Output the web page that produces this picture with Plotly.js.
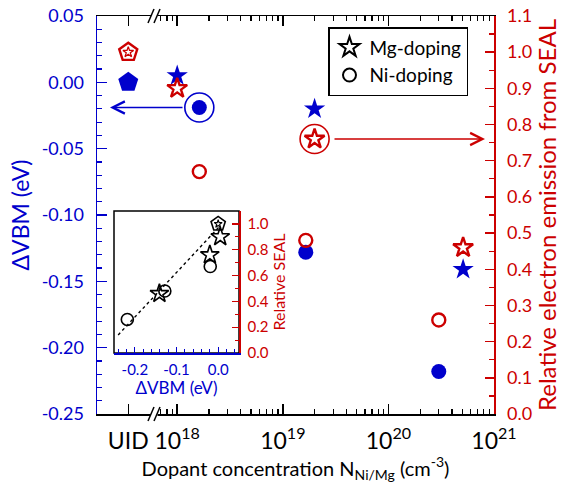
<!DOCTYPE html>
<html><head><meta charset="utf-8">
<script src="https://cdn.plot.ly/plotly-3.0.1.min.js"></script>
<style>html,body{margin:0;padding:0;background:#fff}#chart{width:574px;height:483px}</style>
</head><body><div id="chart"></div>
<script>
// ---- data ----
const samples       = ['UID', 'Mg', 'Ni', 'Ni', 'Mg', 'Ni', 'Mg'];
const concentration = [3.44e17, 1.0e18, 1.62e18, 1.65e19, 2.0e19, 3.0e20, 5.1e20]; // cm^-3 (UID placed at break)
const deltaVBM      = [0.000, 0.005, -0.019, -0.128, -0.020, -0.218, -0.141];   // eV
const relSEAL       = [1.00, 0.90, 0.67, 0.48, 0.76, 0.26, 0.46];
const highlightVBM  = 2;   // point circled in blue
const highlightSEAL = 4;   // point circled in red
const fitVBM  = [-0.24, 0.006];
const fitSEAL = [0.14, 0.99];

const xTickVals = [3.44e17, 1e18, 1e19, 1e20, 1e21];
const xTickText = ['UID', '10<sup>18</sup>', '10<sup>19</sup>', '10<sup>20</sup>', '10<sup>21</sup>'];
const xMinorVals = [7e17, 8e17, 9e17,
  2e18, 3e18, 4e18, 5e18, 6e18, 7e18, 8e18, 9e18,
  2e19, 3e19, 4e19, 5e19, 6e19, 7e19, 8e19, 9e19,
  2e20, 3e20, 4e20, 5e20, 6e20, 7e20, 8e20, 9e20];
const yTickVals = [-0.25, -0.20, -0.15, -0.10, -0.05, 0.00, 0.05];
const yTickText = ['-0.25', '-0.20', '-0.15', '-0.10', '-0.05', '0.00', '0.05'];
const insetXTickVals = [-0.2, -0.1, 0.0];
const insetXTickText = ['-0.2', '-0.1', '0.0'];
const insetYTickVals = [0.0, 0.2, 0.4, 0.6, 0.8, 1.0];
const insetYTickText = ['0.0', '0.2', '0.4', '0.6', '0.8', '1.0'];
const legendNames = ['Mg-doping', 'Ni-doping'];

const BLUE = '#0000cc', RED = '#cc0000';
const FONT = 'Lato, "Open Sans", sans-serif';
const filledSym = {UID: 'pentagon', Mg: 'star', Ni: 'circle'};
const openSym   = {UID: 'pentagon-open', Mg: 'star-open', Ni: 'circle-open'};
const mainSize  = {UID: 21, Mg: 16, Ni: 15};
const redSize   = {UID: 19, Mg: 15, Ni: 13};
const insetSize = {UID: 15, Mg: 14, Ni: 12};

const traces = [
  // blue: delta VBM (left axis)
  {x: concentration, y: deltaVBM, xaxis: 'x', yaxis: 'y', mode: 'markers', showlegend: false,
   marker: {color: BLUE, opacity: 1, symbol: samples.map(s => filledSym[s]), size: samples.map(s => mainSize[s]), line: {width: 0}}},
  // red: relative SEAL (right axis)
  {x: concentration, y: relSEAL, xaxis: 'x', yaxis: 'y2', mode: 'markers', showlegend: false,
   marker: {color: RED, opacity: 1, symbol: samples.map(s => openSym[s]), size: samples.map(s => redSize[s]), line: {width: 2.4, color: RED}}},
  // star inside the UID pentagon (red)
  {x: [concentration[0]], y: [relSEAL[0]], xaxis: 'x', yaxis: 'y2', mode: 'markers', showlegend: false,
   marker: {color: RED, opacity: 1, symbol: 'star-open', size: 8, line: {width: 1.3, color: RED}}},
  // highlight rings
  {x: [concentration[highlightVBM]], y: [deltaVBM[highlightVBM]], xaxis: 'x', yaxis: 'y', mode: 'markers', showlegend: false,
   marker: {color: BLUE, opacity: 1, symbol: 'circle-open', size: 29, line: {width: 1.6, color: BLUE}}},
  {x: [concentration[highlightSEAL]], y: [relSEAL[highlightSEAL]], xaxis: 'x', yaxis: 'y2', mode: 'markers', showlegend: false,
   marker: {color: RED, opacity: 1, symbol: 'circle-open', size: 29, line: {width: 1.6, color: RED}}},
  // inset: fit line
  {x: fitVBM, y: fitSEAL, xaxis: 'x3', yaxis: 'y3', mode: 'lines', showlegend: false,
   line: {color: '#000', width: 1.4, dash: 'dot'}},
  // inset: points
  {x: deltaVBM, y: relSEAL, xaxis: 'x3', yaxis: 'y3', mode: 'markers', showlegend: false,
   marker: {color: '#000', opacity: 1, symbol: samples.map(s => openSym[s]), size: samples.map(s => insetSize[s]), line: {width: 1.6, color: '#000'}}},
  {x: [deltaVBM[0]], y: [relSEAL[0]], xaxis: 'x3', yaxis: 'y3', mode: 'markers', showlegend: false,
   marker: {color: '#000', opacity: 1, symbol: 'star-open', size: 6, line: {width: 1.1, color: '#000'}}},
  // legend entries
  {x: [null], y: [null], xaxis: 'x', yaxis: 'y', mode: 'markers', name: legendNames[0], showlegend: true,
   marker: {color: '#000', symbol: 'star-open', size: 15, line: {width: 2, color: '#000'}}},
  {x: [null], y: [null], xaxis: 'x', yaxis: 'y', mode: 'markers', name: legendNames[1], showlegend: true,
   marker: {color: '#000', symbol: 'circle-open', size: 13, line: {width: 2, color: '#000'}}}
];

// pixel helpers for decoration (plot area 97..494 x 16..414)
const L = 97, R = 494, T = 16, B = 414;
const px = v => (v - L) / (R - L);
const py = v => (B - v) / (B - T);
const insetBox = {x0: px(114), x1: px(239), y0: py(353), y1: py(211)};

const shapes = [
  {type: 'rect', xref: 'paper', yref: 'paper', x0: insetBox.x0, x1: insetBox.x1, y0: insetBox.y0, y1: insetBox.y1,
   line: {color: '#000', width: 1.5}, layer: 'below'}
];
// axis breaks (bottom and top)
[B, T].forEach(yy => {
  shapes.push({type: 'rect', xref: 'paper', yref: 'paper', x0: px(151), x1: px(157.5), y0: py(yy + 3), y1: py(yy - 3),
               fillcolor: '#fff', line: {width: 0}, layer: 'above'});
  shapes.push({type: 'line', xref: 'paper', yref: 'paper', x0: px(148), y0: py(yy + 7), x1: px(154), y1: py(yy - 7),
               line: {color: '#000', width: 1.5}, layer: 'above'});
  shapes.push({type: 'line', xref: 'paper', yref: 'paper', x0: px(154), y0: py(yy + 7), x1: px(160), y1: py(yy - 7),
               line: {color: '#000', width: 1.5}, layer: 'above'});
});

const annotations = [
  {xref: 'paper', yref: 'y', x: px(110), y: deltaVBM[highlightVBM], ax: 74, ay: 0, axref: 'pixel', ayref: 'pixel',
   text: '', showarrow: true, arrowhead: 5, arrowsize: 1.6, arrowwidth: 1.5, arrowcolor: BLUE},
  {xref: 'paper', yref: 'y2', x: px(485), y: relSEAL[highlightSEAL], ax: -152, ay: 0, axref: 'pixel', ayref: 'pixel',
   text: '', showarrow: true, arrowhead: 5, arrowsize: 1.6, arrowwidth: 1.5, arrowcolor: RED}
];

const layout = {
  width: 574, height: 483,
  margin: {l: L, r: 574 - R, t: T, b: 483 - B, pad: 0},
  paper_bgcolor: '#fff', plot_bgcolor: 'rgba(0,0,0,0)',
  font: {family: FONT, color: '#000'},
  showlegend: true,
  legend: {x: px(328), y: py(27), xanchor: 'left', yanchor: 'top', bgcolor: '#fff',
           bordercolor: '#000', borderwidth: 1.5, font: {size: 19, family: FONT, color: '#000'},
           itemwidth: 30, tracegroupgap: 0},
  xaxis: {type: 'log', range: [Math.log10(1.74e17), 21], domain: [0, 1], anchor: 'y',
          tickmode: 'array', tickvals: xTickVals, ticktext: xTickText,
          ticks: 'inside', ticklen: 10, tickwidth: 1.5, tickcolor: '#000',
          minor: {tickmode: 'array', tickvals: xMinorVals, ticks: 'inside', ticklen: 5, tickwidth: 1.2, tickcolor: '#000'},
          showline: true, linecolor: '#000', linewidth: 1.5, mirror: 'ticks',
          showgrid: false, zeroline: false,
          tickfont: {size: 23, color: '#000'}, ticklabelstandoff: 6,
          title: {text: 'Dopant concentration N<sub>Ni/Mg</sub> (cm<sup>-3</sup>)', font: {size: 20, color: '#000'}, standoff: 2}},
  yaxis: {range: [-0.25, 0.05], domain: [0, 1], anchor: 'x', side: 'left',
          tickmode: 'array', tickvals: yTickVals, ticktext: yTickText,
          ticks: 'inside', ticklen: 10, tickwidth: 1.5, tickcolor: BLUE,
          minor: {dtick: 0.01, tick0: 0, ticks: 'inside', ticklen: 5, tickwidth: 1.2, tickcolor: BLUE},
          showline: true, linecolor: BLUE, linewidth: 1.5,
          showgrid: false, zeroline: false,
          tickfont: {size: 18, color: BLUE}, ticklabelstandoff: 8,
          title: {text: 'ΔVBM (eV)', font: {size: 23, color: BLUE}, standoff: 5}},
  yaxis2: {range: [0, 1.1], overlaying: 'y', side: 'right', anchor: 'x',
           dtick: 0.1, tick0: 0, tickformat: '.1f',
           ticks: 'inside', ticklen: 9, tickwidth: 1.5, tickcolor: RED,
           minor: {dtick: 0.05, tick0: 0, ticks: 'inside', ticklen: 5, tickwidth: 1.2, tickcolor: RED},
           showline: true, linecolor: RED, linewidth: 1.5,
           showgrid: false, zeroline: false,
           tickfont: {size: 18, color: RED}, ticklabelstandoff: 8,
           title: {text: 'Relative electron emission from SEAL', font: {size: 24, color: RED}, standoff: 6}},
  xaxis3: {domain: [insetBox.x0, insetBox.x1], anchor: 'y3', range: [-0.25, 0.05],
           tickmode: 'array', tickvals: insetXTickVals, ticktext: insetXTickText,
           ticks: 'inside', ticklen: 6, tickwidth: 1.3, tickcolor: BLUE,
           minor: {dtick: 0.02, tick0: 0, ticks: 'inside', ticklen: 4, tickwidth: 1.1, tickcolor: BLUE},
           showline: true, linecolor: BLUE, linewidth: 1.5,
           showgrid: false, zeroline: false,
           tickfont: {size: 15, color: BLUE}, ticklabelstandoff: 2,
           title: {text: 'ΔVBM (eV)', font: {size: 17, color: BLUE}, standoff: 2}},
  yaxis3: {domain: [insetBox.y0, insetBox.y1], anchor: 'x3', side: 'right', range: [0, 1.1],
           tickmode: 'array', tickvals: insetYTickVals, ticktext: insetYTickText,
           ticks: 'inside', ticklen: 7, tickwidth: 1.3, tickcolor: RED,
           minor: {dtick: 0.1, tick0: 0, ticks: 'inside', ticklen: 4, tickwidth: 1.1, tickcolor: RED},
           showline: true, linecolor: RED, linewidth: 1.5,
           showgrid: false, zeroline: false,
           tickfont: {size: 15, color: RED}, ticklabelstandoff: 4,
           title: {text: 'Relative SEAL', font: {size: 16, color: RED}, standoff: 2}},
  shapes: shapes,
  annotations: annotations
};

Plotly.newPlot('chart', traces, layout, {displayModeBar: false, staticPlot: true});
</script>
</body></html>
